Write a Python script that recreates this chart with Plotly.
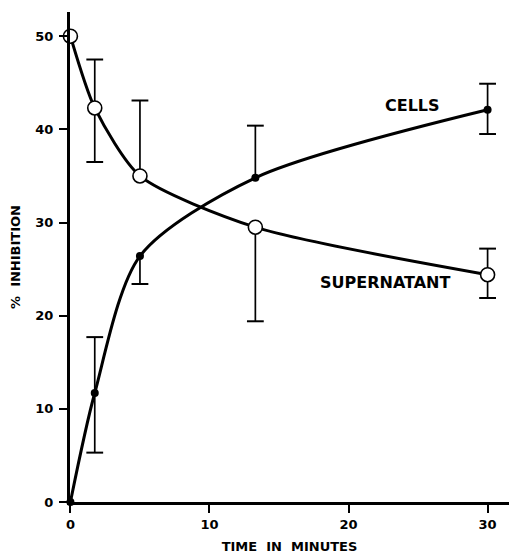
import plotly.graph_objects as go

# ---- data ----
time_min = [0, 1.75, 5, 13.3, 30]

cells = [0, 11.7, 26.4, 34.8, 42.1]
cells_lo = [None, 5.3, 23.4, None, 39.5]
cells_hi = [None, 17.7, None, 40.4, 44.9]

super_vals = [50, 42.3, 35, 29.5, 24.4]
super_lo = [None, 36.5, None, 19.4, 21.9]
super_hi = [None, 47.5, 43.1, None, 27.2]

x_ticks = [0, 10, 20, 30]
y_ticks = [0, 10, 20, 30, 40, 50]

FONT = "DejaVu Sans"
BLACK = "black"

fig = go.Figure()


def add_errorbars(xs, ys, los, his):
    sx, sy, cx, cy = [], [], [], []
    for x, y, lo, hi in zip(xs, ys, los, his):
        if lo is None and hi is None:
            continue
        a = lo if lo is not None else y
        b = hi if hi is not None else y
        sx += [x, x, None]
        sy += [a, b, None]
        if lo is not None:
            cx.append(x)
            cy.append(lo)
        if hi is not None:
            cx.append(x)
            cy.append(hi)
    fig.add_trace(go.Scatter(x=sx, y=sy, mode="lines",
                             line=dict(color=BLACK, width=1.7),
                             hoverinfo="skip", showlegend=False, cliponaxis=False))
    fig.add_trace(go.Scatter(x=cx, y=cy, mode="markers",
                             marker=dict(symbol="line-ew-open", size=12, color=BLACK,
                                         line=dict(color=BLACK, width=2)),
                             hoverinfo="skip", showlegend=False, cliponaxis=False))


add_errorbars(time_min, cells, cells_lo, cells_hi)
add_errorbars(time_min, super_vals, super_lo, super_hi)

fig.add_trace(go.Scatter(
    x=time_min, y=cells, mode="lines+markers", name="CELLS",
    line=dict(color=BLACK, width=3, shape="spline", smoothing=0.8),
    marker=dict(symbol="circle", size=8, color=BLACK),
    showlegend=False, cliponaxis=False))

fig.add_trace(go.Scatter(
    x=time_min, y=super_vals, mode="lines+markers", name="SUPERNATANT",
    line=dict(color=BLACK, width=3, shape="spline", smoothing=0.7),
    marker=dict(symbol="circle", size=14, color="white",
                line=dict(color=BLACK, width=1.6)),
    showlegend=False, cliponaxis=False))

fig.add_annotation(x=24.57, y=42.6, text="<b>CELLS</b>", showarrow=False,
                   font=dict(family=FONT, size=16, color=BLACK))
fig.add_annotation(x=22.6, y=23.55, text="<b>SUPERNATANT</b>", showarrow=False,
                   font=dict(family=FONT, size=16, color=BLACK))

fig.update_layout(
    width=509, height=556,
    margin=dict(l=70, r=0, t=12, b=54),
    paper_bgcolor="white", plot_bgcolor="white",
    font=dict(family=FONT, color=BLACK),
    showlegend=False,
)

fig.update_xaxes(
    range=[-0.03, 31.54], tickvals=x_ticks, ticktext=[f"<b>{v}</b>" for v in x_ticks],
    showline=True, linewidth=3, linecolor=BLACK, showgrid=False, zeroline=False,
    ticks="outside", ticklen=8, tickwidth=2, tickcolor=BLACK,
    tickfont=dict(family=FONT, size=13, color=BLACK),
    title=dict(text="<b>TIME\u00a0\u00a0IN\u00a0\u00a0MINUTES</b>",
               font=dict(family=FONT, size=13, color=BLACK), standoff=12),
)
fig.update_yaxes(
    range=[0, 52.6], tickvals=y_ticks, ticktext=[f"<b>{v}</b>" for v in y_ticks],
    showline=True, linewidth=3, linecolor=BLACK, showgrid=False, zeroline=False,
    ticks="outside", ticklen=8, tickwidth=2, tickcolor=BLACK,
    ticklabelstandoff=3,
    tickfont=dict(family=FONT, size=13, color=BLACK),
    title=dict(text="<b>%\u00a0\u00a0INHIBITION</b>",
               font=dict(family=FONT, size=13, color=BLACK), standoff=12),
)

fig.write_html("out.html", config={"displayModeBar": False},
               post_script="document.body.style.margin='0';document.body.style.padding='0';")
